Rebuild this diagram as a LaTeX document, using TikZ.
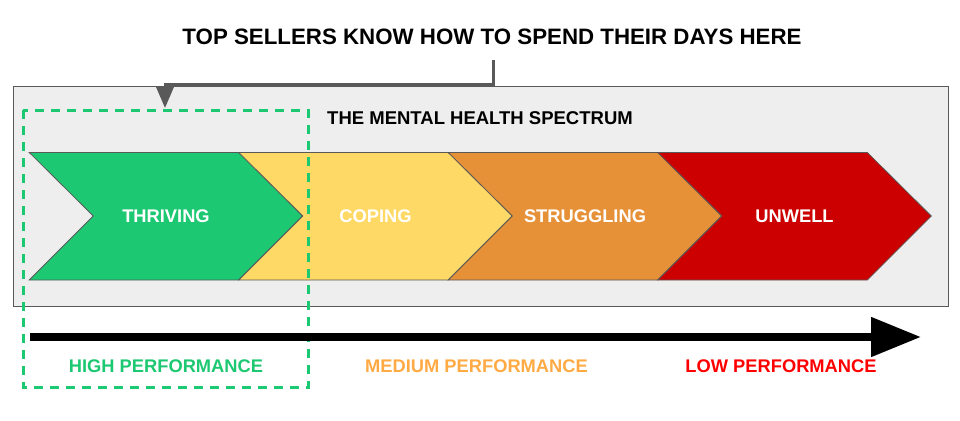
\documentclass[tikz,border=0pt]{standalone}
\usepackage{fontspec}
\setmainfont{Liberation Sans}
\usetikzlibrary{arrows.meta}
\definecolor{boxgray}{HTML}{EEEEEE}
\definecolor{edgegray}{HTML}{595959}
\definecolor{cgreen}{HTML}{1DC872}
\definecolor{cyellow}{HTML}{FFD966}
\definecolor{corange}{HTML}{E69138}
\definecolor{cred}{HTML}{CC0000}
\definecolor{tmed}{HTML}{FFAA44}
\definecolor{tlow}{HTML}{FF0000}
\tikzset{
  chev/.style={draw=edgegray, line width=0.8pt, line join=miter},
  chevlabel/.style={text=white, font=\bfseries\fontsize{18.3}{21}\selectfont, anchor=center},
  perf/.style={font=\bfseries\fontsize{18.3}{21}\selectfont, anchor=center},
}
\begin{document}
\begin{tikzpicture}[x=1pt,y=-1pt]
\useasboundingbox (0,0) rectangle (960,420);
% gray panel
\node[draw=edgegray, fill=boxgray, line width=1pt, minimum width=935pt, minimum height=220pt, inner sep=0pt, anchor=north west] (panel) at (12.5,86) {};
% chevrons
\def\w{209.5}
\def\d{64}
\foreach \i/\col in {0/cgreen,1/cyellow,2/corange,3/cred}{
  \pgfmathsetmacro{\xa}{29.3+\i*\w}
  \pgfmathsetmacro{\xb}{\xa+\w}
  \filldraw[chev, fill=\col] (\xa,152.5) -- (\xb,152.5) -- (\xb+\d,216) -- (\xb,280) -- (\xa,280) -- (\xa+\d,216) -- cycle;
}
\node[chevlabel] (thr) at (166,216) {THRIVING};
\node[chevlabel] (cop) at (375.5,216) {COPING};
\node[chevlabel] (str) at (585,216) {STRUGGLING};
\node[chevlabel] (unw) at (794.5,216) {UNWELL};
% panel title
\node[font=\bfseries\fontsize{18.5}{21}\selectfont, anchor=center] (spec) at (480,118) {THE MENTAL HEALTH SPECTRUM};
% top title
\node[font=\bfseries\fontsize{22.3}{26}\selectfont, anchor=center] (title) at (492,37) {TOP SELLERS KNOW HOW TO SPEND THEIR DAYS HERE};
% connector
\coordinate (cs) at (493,60.5);
\coordinate (ce) at (165,108);
\draw[edgegray, line width=3pt, -{Triangle[width=18pt,length=22pt]}] (cs) -- (493,84) -| (ce);
% dashed highlight box
\draw[cgreen, line width=3pt, dash pattern=on 9pt off 7pt] (23,110) rectangle (308,387.5);
% bottom arrow
\coordinate (as) at (30,337);
\coordinate (ae) at (921,337);
\draw[black, line width=8pt, -{Triangle[width=38pt,length=50pt]}] (as) -- (ae);
% performance labels
\node[perf, text=cgreen] (hp) at (166,366) {HIGH PERFORMANCE};
\node[perf, text=tmed] (mp) at (476.5,366) {MEDIUM PERFORMANCE};
\node[perf, text=tlow] (lp) at (781,366) {LOW PERFORMANCE};
\end{tikzpicture}
\end{document}
